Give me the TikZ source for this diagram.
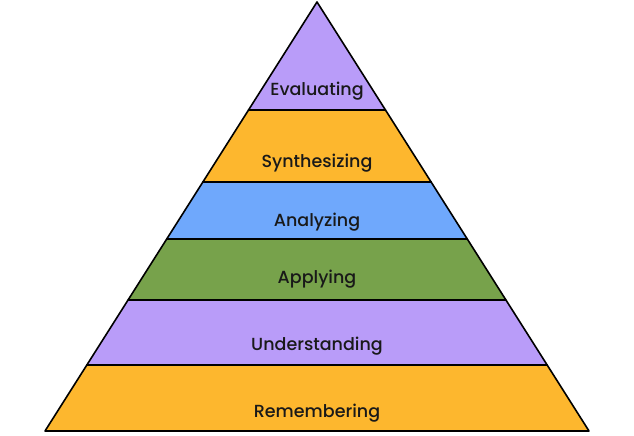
\documentclass[tikz,border=0pt]{standalone}
\usepackage{fontspec}
\setmainfont{Poppins Medium}
\usetikzlibrary{calc}

\definecolor{lilac}{HTML}{B99CF9}
\definecolor{amber}{HTML}{FDB72E}
\definecolor{skyblue}{HTML}{6FA8FC}
\definecolor{olive}{HTML}{77A24B}

\begin{document}
\begin{tikzpicture}[x=1pt, y=-1pt,
  layer/.style={draw=black, line width=1.6pt, line join=round},
  lbl/.style={font=\fontsize{17.5}{20}\selectfont, anchor=base, text=black!90}]
\useasboundingbox (0,0) rectangle (634,436);

\coordinate (A) at (317,2);
\coordinate (L) at (45,431);
\coordinate (R) at (589,431);

% layer boundaries
\foreach \name/\y in {ba/110, bb/182, bc/239, bd/300, be/365} {
  \coordinate (\name l) at ($(A)!{(\y-2)/429}!(L)$);
  \coordinate (\name r) at ($(A)!{(\y-2)/429}!(R)$);
}

\filldraw[layer, fill=lilac] (A) -- (bar) -- (bal) -- cycle;
\filldraw[layer, fill=amber] (bal) -- (bar) -- (bbr) -- (bbl) -- cycle;
\filldraw[layer, fill=skyblue] (bbl) -- (bbr) -- (bcr) -- (bcl) -- cycle;
\filldraw[layer, fill=olive] (bcl) -- (bcr) -- (bdr) -- (bdl) -- cycle;
\filldraw[layer, fill=lilac] (bdl) -- (bdr) -- (ber) -- (bel) -- cycle;
\filldraw[layer, fill=amber] (bel) -- (ber) -- (R) -- (L) -- cycle;

\node[lbl] (eval) at (317,95) {Evaluating};
\node[lbl] (synth) at (317,167) {Synthesizing};
\node[lbl] (anal) at (317,226) {Analyzing};
\node[lbl] (appl) at (317,283) {Applying};
\node[lbl] (under) at (317,350) {Understanding};
\node[lbl] (remem) at (317,417) {Remembering};
\end{tikzpicture}
\end{document}
